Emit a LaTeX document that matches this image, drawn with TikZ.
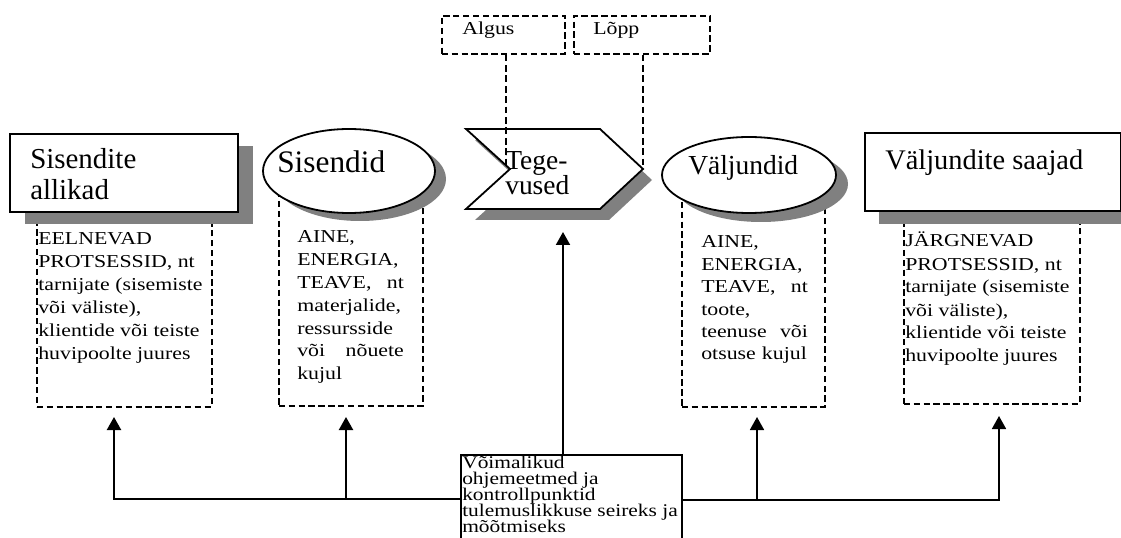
\documentclass[tikz,border=0pt]{standalone}
\usepackage{fontspec}
\setmainfont{Liberation Serif}
\newfontfamily\smallserif[FakeStretch=1.2]{Liberation Serif}
\usetikzlibrary{arrows.meta,shadows,shapes.geometric}
\definecolor{shadowgray}{RGB}{128,128,128}
\newcommand\tightlines{\lineskiplimit=-20pt\relax}
\tikzset{
  gshadow/.style 2 args={drop shadow={shadow xshift=#1, shadow yshift=#2, fill=shadowgray, opacity=1}},
  solidshape/.style={draw=black, line width=1.35pt, fill=white, inner sep=0pt},
  dashedbox/.style={draw=black, line width=1.25pt, dash pattern=on 4.8pt off 2.6pt, inner sep=0pt, anchor=north west},
  guideline/.style={draw=black, line width=1.25pt, dash pattern=on 5pt off 2.8pt},
  bigtext/.style={inner sep=0pt, anchor=base west, align=left},
  smalltext/.style={inner sep=0pt, anchor=base west, align=left},
  smallfont/.style={font={\smallserif\fontsize{13.65pt}{#1}\selectfont\tightlines}},
  connL/.style={line width=1.6pt},
  connR/.style={line width=1.3pt},
  tip/.style={-{Triangle[width=10.5pt,length=9.75pt]}},
}
\begin{document}
\begin{tikzpicture}[x=0.75pt,y=-0.75pt]
\path[use as bounding box] (0,0) rectangle (1121,538);
\clip (0,0) rectangle (1121,538);

% dashed content boxes
\node[dashedbox, minimum width=131.25pt, minimum height=146.25pt] (srcdash) at (36,211) {};
\node[dashedbox, minimum width=108pt, minimum height=161.25pt] (indash) at (278,190) {};
\node[dashedbox, minimum width=107.25pt, minimum height=162pt] (outdash) at (681,190) {};
\node[dashedbox, minimum width=132pt, minimum height=144pt] (rcvdash) at (903,211) {};

% top boxes
\node[dashedbox, minimum width=92.25pt, minimum height=28.5pt] (algus) at (441,15) {};
\node[dashedbox, minimum width=102pt, minimum height=28.5pt] (lopp) at (573,15) {};

% main shapes
\node[solidshape, gshadow={11.25pt}{-9pt}, anchor=north west, minimum width=171pt, minimum height=58.5pt] (src) at (9,133) {};
\node[solidshape, ellipse, gshadow={8.25pt}{-6pt}, minimum width=129pt, minimum height=63pt] (in) at (349,171) {};
\coordinate (acttip) at (643,169);
\draw[solidshape, gshadow={6.75pt}{-8.25pt}] (466,129) -- (600,129) -- (acttip) -- (600,209) -- (466,209) -- (510,169) -- cycle;
\node[solidshape, ellipse, gshadow={9pt}{-6.75pt}, minimum width=130.5pt, minimum height=57pt] (out) at (749,175) {};
\node[solidshape, gshadow={10.5pt}{-9.75pt}, anchor=north west, minimum width=192pt, minimum height=58.5pt] (rcv) at (864,132) {};

% dashed guides
\coordinate (algusend) at (506,167);
\draw[guideline] (algusend |- algus.south) -- (algusend);
\draw[guideline] (acttip |- lopp.south) -- (acttip);

% titles (multi-line nodes: base = last line)
\node[bigtext, font={\fontsize{21.7pt}{23.25pt}\selectfont}] (srcT) at (30,200) {Sisendite\\allikad};
\node[bigtext, font={\fontsize{23.5pt}{26pt}\selectfont}] (inT) at (277,173) {Sisendid};
\node[bigtext, font={\fontsize{20.6pt}{18.75pt}\selectfont\tightlines}] (actT) at (505,195) {Tege-\\vused};
\node[bigtext, font={\fontsize{20.6pt}{24pt}\selectfont}] (outT) at (688,175) {Väljundid};
\node[bigtext, font={\fontsize{21.3pt}{24pt}\selectfont}] (rcvT) at (885,170) {Väljundite saajad};

\node[smalltext, smallfont=17pt] (algusT) at (462,35) {Algus};
\node[smalltext, smallfont=17pt] (loppT) at (593,35) {Lõpp};

% content texts
\node[smalltext, smallfont=17.25pt] (srcL) at (38,359) {EELNEVAD\\PROTSESSID, nt\\tarnijate (sisemiste\\või väliste),\\klientide või teiste\\huvipoolte juures};
\node[smalltext, smallfont=17.1pt, text width=80pt] (inL) at (297,243) {AINE,\\ENERGIA,\\TEAVE,\hfill nt\\materjalide,\\ressursside\\või\hfill nõuete\\kujul};
\node[smalltext, smallfont=16.8pt, text width=80pt] (outL) at (701,248) {AINE,\\ENERGIA,\\TEAVE,\hfill nt\\toote,\\teenuse\hfill või\\otsuse kujul};
\node[smalltext, smallfont=17.25pt] (rcvL) at (905,362) {JÄRGNEVAD\\PROTSESSID, nt\\tarnijate (sisemiste\\või väliste),\\klientide või teiste\\huvipoolte juures};

% control box
\node[draw=black, line width=1.4pt, fill=white, inner sep=0pt, anchor=north west, minimum width=165.75pt, minimum height=75pt] (ctrl) at (460,454) {};
\node[smalltext, font={\smallserif\fontsize{13.4pt}{12pt}\selectfont\tightlines}] (ctrlT) at (462,532) {Võimalikud\\ohjemeetmed ja\\kontrollpunktid\\tulemuslikkuse seireks ja\\mõõtmiseks};

% connectors
\coordinate (t1) at (114,417);
\coordinate (t2) at (346,417);
\coordinate (t3) at (757,417);
\coordinate (t4) at (999,416);
\coordinate (tact) at (563,232);
\coordinate (hubL) at ([yshift=-33.75pt]ctrl.north west);
\coordinate (hubR) at ([yshift=-34.5pt]ctrl.north east);
\draw[connL, tip] (hubL) -| (t1);
\draw[connL, tip] (t2 |- hubL) -- (t2);
\draw[connR, tip] (hubR) -| (t4);
\draw[connR, tip] (t3 |- hubR) -- (t3);
\draw[line width=1.5pt, tip] (tact |- ctrl.north) -- (tact);
\end{tikzpicture}
\end{document}
